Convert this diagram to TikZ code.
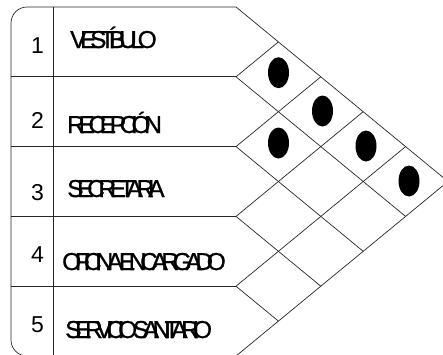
\documentclass[tikz,border=0pt]{standalone}
\usepackage{fontspec}
\setmainfont{Liberation Sans}
\newfontfamily\roomfont{Liberation Sans}[LetterSpace=-26, FakeBold=0.8]
\newcommand\tightwords{\spaceskip=-4.5pt\relax}
\usetikzlibrary{positioning}

\begin{document}
\begin{tikzpicture}[x=1pt, y=-1pt,
    grid/.style={line width=0.7pt, black!85},
    numtext/.style={anchor=base, inner sep=0pt, font=\fontsize{23}{23}\selectfont},
    roomtext/.style={anchor=base west, inner sep=0pt, font=\roomfont\fontsize{24.5}{24.5}\selectfont},
]

\useasboundingbox (0,0) rectangle (443,354);
\clip (0,0) rectangle (443,354);

\draw[grid, rounded corners=16] (236,7) -- (11,7) -- (11,356) -- (236,356);
\draw[grid] (53,7) -- (53,356);
\draw[grid] (236,7) -- (448,181.5) -- (236,356);

\foreach \k in {1,...,4} {
    \draw[grid] (11,{7+69.8*\k}) -- (236,{7+69.8*\k});
    \draw[grid] ({236+42.4*\k},{7+34.9*\k}) -- (236,{7+69.8*\k})
        -- ({236+42.4*(5-\k)},{7+69.8*\k+34.9*(5-\k)});
}

\foreach \n/\yb/\xl/\yl/\room in {1/53/70/48/VESTÍBULO, 2/128/67/133/RECEPCIÓN,
    3/200/67/197/SECRETARIA, 4/262/62/270/OFICINA ENCARGADO, 5/332/65/338/SERVICIO SANITARIO} {
    \node[numtext] (num\n) at (37.5,\yb) {\n};
    \node[roomtext] (room\n) at (\xl,\yl) {\tightwords\room};
}

\foreach \dx/\dy in {278.5/72.7, 322.5/111, 278.5/143, 366/146, 409/181}
    \fill (\dx,\dy) ellipse [x radius=10.5, y radius=15.5];

\end{tikzpicture}
\end{document}
